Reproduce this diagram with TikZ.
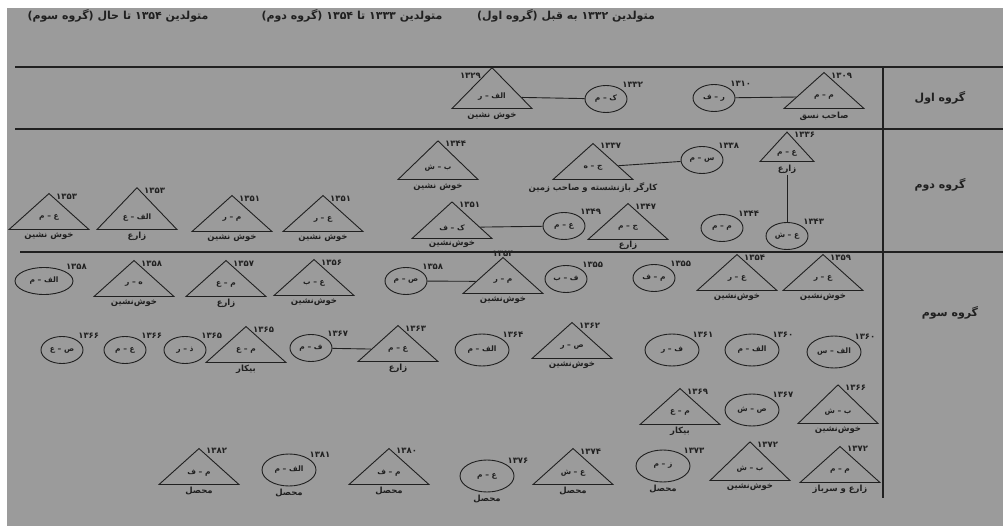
\documentclass[tikz,border=0pt]{standalone}
\usepackage{fontspec}
\usepackage{xcolor}
\usepackage{tikz}
\usetikzlibrary{shapes.geometric, positioning}
\TeXXeTstate=1
\newfontfamily\fafont[Script=Arabic]{DejaVu Sans}
\newcommand{\fatxt}[1]{\beginR #1\endR}
\definecolor{SheetGray}{RGB}{155,155,155}
\definecolor{InkGray}{RGB}{32,32,32}
\tikzset{
  tri/.style={isosceles triangle, isosceles triangle stretches, shape border rotate=90,
    draw=InkGray, line width=0.9pt, minimum width=80pt, minimum height=36pt,
    inner sep=0pt, text=InkGray, font={\fafont\bfseries\fontsize{7.5}{8}\selectfont}},
  ring/.style={ellipse, draw=InkGray, line width=0.9pt, minimum width=42pt,
    minimum height=27pt, inner sep=0pt, text=InkGray, font={\fafont\bfseries\fontsize{7.5}{8}\selectfont}},
  ringL/.style={ring, minimum width=54pt, minimum height=32pt},
  yr/.style={inner sep=1pt, text=InkGray, font={\fafont\bfseries\fontsize{8.5}{9}\selectfont}},
  lbl/.style={inner sep=1pt, text=InkGray, font={\fafont\bfseries\fontsize{8.5}{9}\selectfont}},
  head/.style={inner sep=1pt, text=InkGray, font={\fafont\bfseries\fontsize{11}{12}\selectfont}},
  grp/.style={inner sep=1pt, text=InkGray, font={\fafont\bfseries\fontsize{11}{12}\selectfont}},
  tie/.style={draw=InkGray, line width=0.9pt},
  rule/.style={draw=InkGray, line width=1.1pt}
}

\begin{document}
\begin{tikzpicture}[x=1pt, y=-1pt]
  \useasboundingbox (0,0) rectangle (1006,526);
  \fill[white] (0,0) rectangle (1006,526);
  \fill[SheetGray] (7,8) rectangle (1003,526);

  % header
  \node[head] (h1) at (566,16) {\fatxt{متولدین ۱۳۳۲ به قبل (گروه اول)}};
  \node[head] (h2) at (352,16) {\fatxt{متولدین ۱۳۳۳ تا ۱۳۵۴ (گروه دوم)}};
  \node[head] (h3) at (118,16) {\fatxt{متولدین ۱۳۵۴ تا حال (گروه سوم)}};

  % table rules
  \draw[rule] (15,67) -- (1003,67);
  \draw[rule] (15,129) -- (1003,129);
  \draw[rule] (20,252) -- (1003,252);
  \draw[rule] (883,67) -- (883,498);

  \node[grp] (g1) at (940,98) {\fatxt{گروه اول}};
  \node[grp] (g2) at (940,185) {\fatxt{گروه دوم}};
  \node[grp] (g3) at (950,313) {\fatxt{گروه سوم}};

  % group 1
  \node[tri, anchor=south] (t11) at (824,109) {\fatxt{م – م}};
  \node[yr, below right=0pt and 6pt of t11.apex] (t11y) {۱۳۰۹};
  \node[lbl, below=2pt of t11.south] (t11l) {\fatxt{صاحب نسق}};
  \node[ring] (c11) at (714,98) {\fatxt{ر – ف}};
  \node[yr, anchor=south west] (c11y) at (c11.north east) {۱۳۱۰};
  \node[ring] (c12) at (606,99) {\fatxt{ک – م}};
  \node[yr, anchor=south west] (c12y) at (c12.north east) {۱۳۳۲};
  \node[tri, anchor=south] (t12) at (492,109) {\fatxt{الف – ر}};
  \node[yr, below left=5pt and 10pt of t12.apex] (t12y) {۱۳۲۹};
  \node[lbl, below=2pt of t12.south] (t12l) {\fatxt{خوش نشین}};
  \draw[tie] (c11) -- (t11);
  \draw[tie] (t12) -- (c12);

  % group 2
  \node[tri, anchor=south, minimum width=54pt, minimum height=28pt] (t21) at (787,162) {\fatxt{ع – م}};
  \node[yr, below right=0pt and 6pt of t21.apex] (t21y) {۱۳۳۶};
  \node[lbl, below=2pt of t21.south] (t21l) {زارع};
  \node[ring] (c21) at (787,236) {\fatxt{ع – ش}};
  \node[yr, anchor=south west] (c21y) at (c21.north east) {۱۳۴۳};
  \draw[tie] (t21l) -- (c21);
  \node[ring] (c22) at (702,160) {\fatxt{س – م}};
  \node[yr, anchor=south west] (c22y) at (c22.north east) {۱۳۳۸};
  \node[tri, anchor=south] (t22) at (593,180) {\fatxt{ج – ه}};
  \node[yr, below right=0pt and 6pt of t22.apex] (t22y) {۱۳۳۷};
  \node[lbl, below=2pt of t22.south] (t22l) {\fatxt{کارگر بازنشسته و صاحب زمین}};
  \draw[tie] (c22) -- (t22);
  \node[tri, anchor=south] (t23) at (438,180) {\fatxt{ب – ش}};
  \node[yr, below right=0pt and 6pt of t23.apex] (t23y) {۱۳۴۴};
  \node[lbl, below=2pt of t23.south] (t23l) {\fatxt{خوش نشین}};
  \node[ring] (c23) at (722,228) {\fatxt{م – م}};
  \node[yr, anchor=south west] (c23y) at (c23.north east) {۱۳۴۴};
  \node[tri, anchor=south] (t24) at (628,240) {\fatxt{ج – م}};
  \node[yr, below right=0pt and 6pt of t24.apex] (t24y) {۱۳۴۷};
  \node[lbl, below=0pt of t24.south] (t24l) {زارع};
  \node[ring] (c24) at (564,226) {\fatxt{ع – م}};
  \node[yr, anchor=south west] (c24y) at (c24.north east) {۱۳۴۹};
  \node[tri, anchor=south] (t25) at (452,239) {\fatxt{ک – ف}};
  \node[yr, below right=0pt and 6pt of t25.apex] (t25y) {۱۳۵۱};
  \node[lbl, below=0pt of t25.south] (t25l) {خوش‌نشین};
  \draw[tie] (t25) -- (c24);
  \node[tri, anchor=south] (t26) at (323,232) {\fatxt{ع – ر}};
  \node[yr, below right=0pt and 6pt of t26.apex] (t26y) {۱۳۵۱};
  \node[lbl, below=1pt of t26.south] (t26l) {\fatxt{خوش نشین}};
  \node[tri, anchor=south] (t27) at (232,232) {\fatxt{م – ر}};
  \node[yr, below right=0pt and 6pt of t27.apex] (t27y) {۱۳۵۱};
  \node[lbl, below=1pt of t27.south] (t27l) {\fatxt{خوش نشین}};
  \node[tri, anchor=south] (t28) at (137,230) {\fatxt{الف – ع}};
  \node[yr, below right=0pt and 6pt of t28.apex] (t28y) {۱۳۵۳};
  \node[lbl, below=1pt of t28.south] (t28l) {زارع};
  \node[tri, anchor=south] (t29) at (49,230) {\fatxt{ع – م}};
  \node[yr, below right=0pt and 6pt of t29.apex] (t29y) {۱۳۵۳};
  \node[lbl, below=1pt of t29.south] (t29l) {\fatxt{خوش نشین}};

  % group 3
  \node[ringL, minimum width=58pt, minimum height=27pt] (c31) at (44,281) {\fatxt{الف – م}};
  \node[yr, anchor=south west] (c31y) at (c31.north east) {۱۳۵۸};
  \node[tri, anchor=south] (t31) at (134,297) {\fatxt{ه – ر}};
  \node[yr, below right=0pt and 6pt of t31.apex] (t31y) {۱۳۵۸};
  \node[lbl, below=1pt of t31.south] (t31l) {خوش‌نشین};
  \node[tri, anchor=south] (t32) at (226,297) {\fatxt{م – ع}};
  \node[yr, below right=0pt and 6pt of t32.apex] (t32y) {۱۳۵۷};
  \node[lbl, below=1pt of t32.south] (t32l) {زارع};
  \node[tri, anchor=south] (t33) at (314,296) {\fatxt{ع – ب}};
  \node[yr, below right=0pt and 6pt of t33.apex] (t33y) {۱۳۵۶};
  \node[lbl, below=1pt of t33.south] (t33l) {خوش‌نشین};
  \node[ring] (c32) at (406,281) {\fatxt{ص – م}};
  \node[yr, anchor=south west] (c32y) at (c32.north east) {۱۳۵۸};
  \node[tri, anchor=south] (t34) at (503,294) {\fatxt{م – ر}};
  \node[yr, above=-1pt of t34.apex] (t34y) {۱۳۵۴};
  \node[lbl, below=1pt of t34.south] (t34l) {خوش‌نشین};
  \draw[tie] (c32) -- (t34);
  \node[ring] (c33) at (566,279) {\fatxt{ف – ب}};
  \node[yr, anchor=south west] (c33y) at (c33.north east) {۱۳۵۵};
  \node[ring] (c34) at (654,278) {\fatxt{م – ف}};
  \node[yr, anchor=south west] (c34y) at (c34.north east) {۱۳۵۵};
  \node[tri, anchor=south] (t35) at (737,291) {\fatxt{ع – ر}};
  \node[yr, below right=0pt and 6pt of t35.apex] (t35y) {۱۳۵۴};
  \node[lbl, below=1pt of t35.south] (t35l) {خوش‌نشین};
  \node[tri, anchor=south] (t36) at (823,291) {\fatxt{ع – ر}};
  \node[yr, below right=0pt and 6pt of t36.apex] (t36y) {۱۳۵۹};
  \node[lbl, below=1pt of t36.south] (t36l) {خوش‌نشین};

  \node[ring] (c35) at (62,350) {\fatxt{ص – ع}};
  \node[yr, anchor=south west] (c35y) at (c35.north east) {۱۳۶۶};
  \node[ring] (c36) at (125,350) {\fatxt{ع – م}};
  \node[yr, anchor=south west] (c36y) at (c36.north east) {۱۳۶۶};
  \node[ring] (c37) at (185,350) {\fatxt{ذ – ر}};
  \node[yr, anchor=south west] (c37y) at (c37.north east) {۱۳۶۵};
  \node[tri, anchor=south] (t37) at (246,363) {\fatxt{م – ع}};
  \node[yr, below right=0pt and 6pt of t37.apex] (t37y) {۱۳۶۵};
  \node[lbl, below=1pt of t37.south] (t37l) {بیکار};
  \node[ring] (c38) at (311,348) {\fatxt{ف – م}};
  \node[yr, anchor=south west] (c38y) at (c38.north east) {۱۳۶۷};
  \node[tri, anchor=south] (t38) at (398,362) {\fatxt{ع – م}};
  \node[yr, below right=0pt and 6pt of t38.apex] (t38y) {۱۳۶۳};
  \node[lbl, below=1pt of t38.south] (t38l) {زارع};
  \draw[tie] (c38) -- (t38);
  \node[ringL] (c39) at (482,350) {\fatxt{الف – م}};
  \node[yr, anchor=south west] (c39y) at (c39.north east) {۱۳۶۴};
  \node[tri, anchor=south] (t39) at (572,359) {\fatxt{ص – ر}};
  \node[yr, below right=0pt and 6pt of t39.apex] (t39y) {۱۳۶۲};
  \node[lbl, below=1pt of t39.south] (t39l) {خوش‌نشین};
  \node[ringL] (c310) at (672,350) {\fatxt{ف – ر}};
  \node[yr, anchor=south west] (c310y) at (c310.north east) {۱۳۶۱};
  \node[ringL] (c311) at (752,350) {\fatxt{الف – م}};
  \node[yr, anchor=south west] (c311y) at (c311.north east) {۱۳۶۰};
  \node[ringL] (c312) at (834,352) {\fatxt{الف – س}};
  \node[yr, anchor=south west] (c312y) at (c312.north east) {۱۳۶۰};

  \node[tri, anchor=south] (t310) at (680,425) {\fatxt{م – ع}};
  \node[yr, below right=0pt and 6pt of t310.apex] (t310y) {۱۳۶۹};
  \node[lbl, below=1pt of t310.south] (t310l) {بیکار};
  \node[ringL] (c313) at (752,410) {\fatxt{ص – ش}};
  \node[yr, anchor=south west] (c313y) at (c313.north east) {۱۳۶۷};
  \node[tri, anchor=south] (t311) at (838,424) {\fatxt{ب – ش}};
  \node[yr, below right=0pt and 6pt of t311.apex] (t311y) {۱۳۶۶};
  \node[lbl, below=1pt of t311.south] (t311l) {خوش‌نشین};

  \node[tri, anchor=south] (t312) at (840,483) {\fatxt{م – م}};
  \node[yr, below right=0pt and 6pt of t312.apex] (t312y) {۱۳۷۲};
  \node[lbl, below=1pt of t312.south] (t312l) {\fatxt{زارع و سرباز}};
  \node[tri, anchor=south] (t313) at (750,481) {\fatxt{ب – ش}};
  \node[yr, below right=0pt and 6pt of t313.apex] (t313y) {۱۳۷۲};
  \node[lbl, below=1pt of t313.south] (t313l) {خوش‌نشین};
  \node[ringL] (c314) at (663,466) {\fatxt{ز – م}};
  \node[yr, anchor=south west] (c314y) at (c314.north east) {۱۳۷۳};
  \node[lbl, below=1pt of c314.south] (c314l) {محصل};
  \node[tri, anchor=south] (t314) at (573,485) {\fatxt{ع – ش}};
  \node[yr, below right=0pt and 6pt of t314.apex] (t314y) {۱۳۷۴};
  \node[lbl, below=1pt of t314.south] (t314l) {محصل};
  \node[ringL] (c315) at (487,476) {\fatxt{ع – م}};
  \node[yr, anchor=south west] (c315y) at (c315.north east) {۱۳۷۶};
  \node[lbl, below=1pt of c315.south] (c315l) {محصل};
  \node[tri, anchor=south] (t315) at (389,485) {\fatxt{م – ف}};
  \node[yr, below right=0pt and 6pt of t315.apex] (t315y) {۱۳۸۰};
  \node[lbl, below=1pt of t315.south] (t315l) {محصل};
  \node[ringL] (c316) at (289,470) {\fatxt{الف – م}};
  \node[yr, anchor=south west] (c316y) at (c316.north east) {۱۳۸۱};
  \node[lbl, below=1pt of c316.south] (c316l) {محصل};
  \node[tri, anchor=south] (t316) at (199,485) {\fatxt{م – ف}};
  \node[yr, below right=0pt and 6pt of t316.apex] (t316y) {۱۳۸۲};
  \node[lbl, below=1pt of t316.south] (t316l) {محصل};
\end{tikzpicture}
\end{document}
